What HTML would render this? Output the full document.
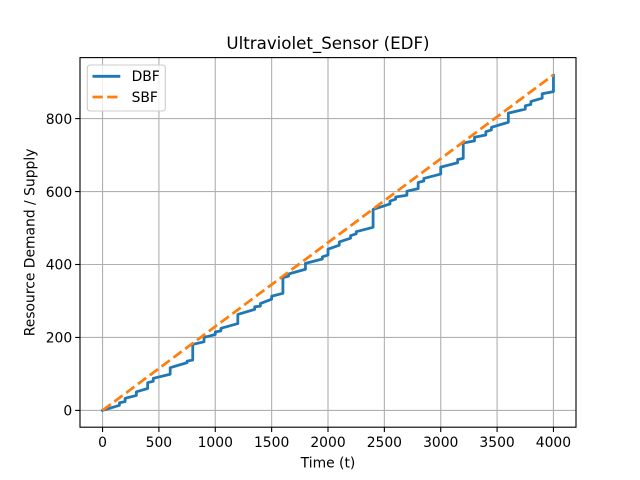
<!DOCTYPE html>
<html>
<head>
<meta charset="utf-8">
<style>
html,body{margin:0;padding:0;background:#fff;}
svg{display:block;}
text{font-family:"DejaVu Sans",sans-serif;fill:#000;}
</style>
</head>
<body>
<svg id="chart" xmlns="http://www.w3.org/2000/svg" width="640" height="480" viewBox="0 0 640 480">
  <rect x="0" y="0" width="640" height="480" fill="#fff"/>
  <g id="grid"></g>
  <g id="series"></g>
  <rect x="80" y="57.6" width="496" height="369.6" fill="none" stroke="#000" stroke-width="1.11"/>
  <g id="ticks"></g>
  <text x="328" y="49" font-size="16.67" text-anchor="middle">Ultraviolet_Sensor (EDF)</text>
  <text x="328" y="467.5" font-size="13.89" text-anchor="middle">Time (t)</text>
  <text transform="translate(34.5,242.4) rotate(-90)" font-size="13.89" text-anchor="middle">Resource Demand / Supply</text>
  <g>
    <rect x="87.3" y="65" width="78" height="46" rx="2.8" ry="2.8" fill="#fff" fill-opacity="0.8" stroke="#ccc" stroke-width="1.11"/>
    <line x1="92.5" y1="76.3" x2="120.3" y2="76.3" stroke="#1f77b4" stroke-width="2.78"/>
    <text x="131.6" y="81.2" font-size="13.89">DBF</text>
    <line x1="92.5" y1="97" x2="120.3" y2="97" stroke="#ff7f0e" stroke-width="2.78" stroke-dasharray="10.28 4.44"/>
    <text x="131.6" y="102" font-size="13.89">SBF</text>
  </g>
</svg>
<script>
var xTicks = [0, 500, 1000, 1500, 2000, 2500, 3000, 3500, 4000];
var yTicks = [0, 200, 400, 600, 800];
var dbfTimes = [0,150,150,200,200,300,300,400,400,450,450,600,600,750,750,800,800,
  900,900,1000,1000,1050,1050,1200,1200,1350,1350,1400,1400,1500,1500,1600,1600,
  1650,1650,1800,1800,1950,1950,2000,2000,2100,2100,2200,2200,2250,2250,2400,2400,
  2550,2550,2600,2600,2700,2700,2800,2800,2850,2850,3000,3000,3150,3150,3200,3200,
  3300,3300,3400,3400,3450,3450,3600,3600,3750,3750,3800,3800,3900,3900,4000,4000];
var dbfValues = [0,14,21,24,33,41,51,60,76,80,88,99,117,131,135,138,181,
  188,200,208,215,218,225,238,263,277,284,286,293,305,313,321,364,
  368,374,387,403,415,421,426,442,453,462,472,479,484,490,502,551,
  566,574,579,585,590,601,608,625,629,636,648,667,679,688,691,733,
  739,749,755,764,769,776,790,815,826,835,839,847,856,868,874,918];
var sbfTimes = [0, 4000];
var sbfValues = [0, 920];

var NS = 'http://www.w3.org/2000/svg';
function xScale(t){ return 102.55 + t * (553.45 - 102.55) / 4000; }
function yScale(v){ return 410.4 - v * (410.4 - 118.6) / 800; }
function make(tag, attrs, parent){
  var el = document.createElementNS(NS, tag);
  for (var k in attrs) el.setAttribute(k, attrs[k]);
  parent.appendChild(el);
  return el;
}
var gridG = document.getElementById('grid');
var ticksG = document.getElementById('ticks');
var seriesG = document.getElementById('series');

xTicks.forEach(function(t){
  var x = xScale(t);
  var g = make('line', {x1:x, x2:x, y1:57.6, y2:427.2, stroke:'#b0b0b0', 'stroke-width':1.11}, gridG);
  
  
  var m = make('line', {x1:x, x2:x, y1:427.2, y2:432.06, stroke:'#000', 'stroke-width':1.11}, ticksG);
  
  
  var l = make('text', {x:x, y:447.2, 'font-size':13.89, 'text-anchor':'middle'}, ticksG);
  
  
  l.textContent = String(t);
});
yTicks.forEach(function(v){
  var y = yScale(v);
  var g = make('line', {x1:80, x2:576, y1:y, y2:y, stroke:'#b0b0b0', 'stroke-width':1.11}, gridG);
  
  
  var m = make('line', {x1:75.14, x2:80, y1:y, y2:y, stroke:'#000', 'stroke-width':1.11}, ticksG);
  
  
  var l = make('text', {x:72.2, y:y + 5.2, 'font-size':13.89, 'text-anchor':'end'}, ticksG);
  
  
  l.textContent = String(v);
});

var d = dbfTimes.map(function(t, i){ return (i ? 'L' : 'M') + xScale(t) + ' ' + yScale(dbfValues[i]); }).join('');
var dbf = make('path', {d:d, fill:'none', stroke:'#1f77b4', 'stroke-width':2.78, 'stroke-linejoin':'round', 'stroke-linecap':'square'}, seriesG);



var s = sbfTimes.map(function(t, i){ return xScale(t) + ',' + yScale(sbfValues[i]); }).join(' ');
var sbf = make('polyline', {points:s, fill:'none', stroke:'#ff7f0e', 'stroke-width':2.78, 'stroke-dasharray':'10.28 4.44'}, seriesG);


</script>
</body>
</html>
